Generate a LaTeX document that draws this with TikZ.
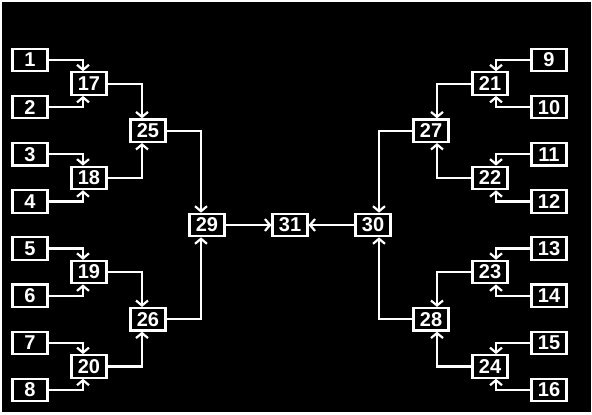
\documentclass[tikz,border=0pt]{standalone}
\usepackage{fontspec}
\setmainfont{Liberation Sans}
\usetikzlibrary{arrows.meta}
\begin{document}
\begin{tikzpicture}[x=1pt,y=-1pt,
  box/.style={draw=white, line width=2.2pt, fill=black, text=white, minimum width=35pt, minimum height=22.5pt, inner sep=0pt, font=\bfseries\fontsize{20}{20}\selectfont},
  conn/.style={draw=white, line width=2.2pt, -{Straight Barb[length=5pt,width=12pt,line width=2.2pt]}}
]
\useasboundingbox (0,0) rectangle (592,415);
\fill[white] (0,0) rectangle (592,415);
\fill[black] (2,2) rectangle (591,412);
% left leaves
\foreach \i in {1,...,8} {
  \node[box] (n\i) at (30,{60+47.143*(\i-1)}) {\i};
}
% right leaves
\foreach \i [evaluate=\i as \j using int(\i+8)] in {1,...,8} {
  \node[box] (n\j) at (549,{60+47.143*(\i-1)}) {\j};
}
% level 1
\node[box] (n17) at (89,83.6) {17};
\node[box] (n18) at (89,177.9) {18};
\node[box] (n19) at (89,272.1) {19};
\node[box] (n20) at (89,366.4) {20};
\node[box] (n21) at (490,83.6) {21};
\node[box] (n22) at (490,177.9) {22};
\node[box] (n23) at (490,272.1) {23};
\node[box] (n24) at (490,366.4) {24};
% level 2
\node[box] (n25) at (148,130.7) {25};
\node[box] (n26) at (148,319.3) {26};
\node[box] (n27) at (431,130.7) {27};
\node[box] (n28) at (431,319.3) {28};
% level 3
\node[box] (n29) at (207,225) {29};
\node[box] (n30) at (373,225) {30};
\node[box] (n31) at (290,225) {31};
% left connectors
\foreach \a/\b in {1/17,3/18,5/19,7/20,17/25,19/26}
  \draw[conn] (n\a.east) -| ([xshift=-6pt]n\b.north);
\foreach \a/\b in {2/17,4/18,6/19,8/20,18/25,20/26}
  \draw[conn] (n\a.east) -| ([xshift=-6pt]n\b.south);
\draw[conn] (n25.east) -| ([xshift=-6pt]n29.north);
\draw[conn] (n26.east) -| ([xshift=-6pt]n29.south);
% right connectors
\foreach \a/\b in {9/21,11/22,13/23,15/24,21/27,23/28}
  \draw[conn] (n\a.west) -| ([xshift=6pt]n\b.north);
\foreach \a/\b in {10/21,12/22,14/23,16/24,22/27,24/28}
  \draw[conn] (n\a.west) -| ([xshift=6pt]n\b.south);
\draw[conn] (n27.west) -| ([xshift=6pt]n30.north);
\draw[conn] (n28.west) -| ([xshift=6pt]n30.south);
% centre
\draw[conn] (n29.east) -- (n31.west);
\draw[conn] (n30.west) -- (n31.east);
\end{tikzpicture}
\end{document}
